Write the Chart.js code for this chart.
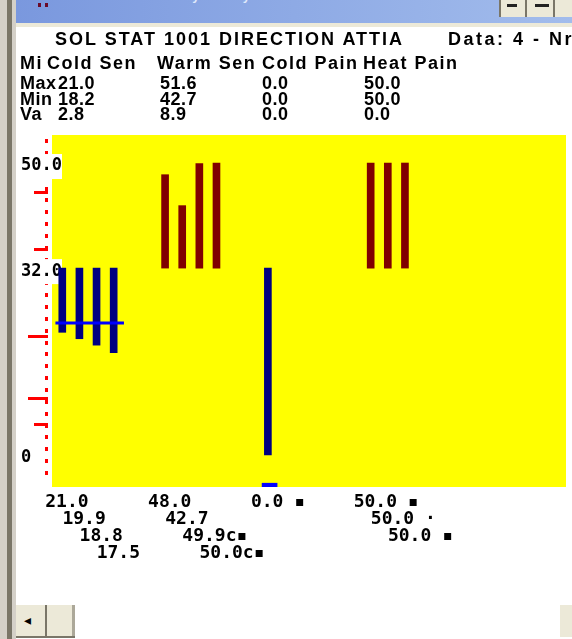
<!DOCTYPE html>
<html>
<head>
<meta charset="utf-8">
<script src="https://cdn.jsdelivr.net/npm/chart.js@4/dist/chart.umd.min.js"></script>
<style>
  body { margin: 0; width: 572px; height: 639px; overflow: hidden; background: #fff; position: relative;
         font-family: "Liberation Sans", Arial, sans-serif; }
  .abs { position: absolute; }
  #leftStrip { left: 0; top: 0; width: 16px; height: 639px;
    background: linear-gradient(to right, #d4d0c8 0 7px, #7a7668 7px 12px, #d4d0c8 12px 16px); }
  #titleBar { left: 16px; top: 0; width: 556px; height: 23px; overflow: hidden;
    background: linear-gradient(to right, #7a98de, #a2bcec); }
  #titleBar span { position: absolute; left: 50px; top: -12px; color: #dfe8fb; font: bold 13px "Liberation Sans"; letter-spacing: 2px; white-space: nowrap; }
  #beige { left: 16px; top: 23px; width: 556px; height: 4px; background: #ece9d8; }
  .ico { top: 3px; width: 3px; height: 4px; background: #6a0a2a; }
  .btn { top: 0; height: 17px; background: #ece9d8; border-left: 2px solid #7a7668; box-sizing: border-box; }
  .btn i { position: absolute; left: 6px; top: 4px; width: 10px; height: 3px; background: #222; }
  .sb { background: #ece9d8; }
  .txt { position: absolute; font: bold 18px "Liberation Sans", Arial, sans-serif; letter-spacing: 0.5px; color: #000; white-space: nowrap; line-height: 18px; z-index: 3; }
  #chart { position: absolute; left: 0; top: 0; z-index: 2; }
</style>
</head>
<body>
<div id="leftStrip" class="abs"></div>
<div id="titleBar" class="abs"><span>Thermal Sensory Analyzer - Patient Data</span></div>
<div id="beige" class="abs"></div>
<div class="abs ico" style="left:38px"></div>
<div class="abs ico" style="left:45px"></div>
<div class="abs btn" style="left:499px;width:26px"><i></i></div>
<div class="abs btn" style="left:525px;width:28px"><i style="left:8px;width:14px"></i></div>
<div class="abs btn" style="left:553px;width:19px"></div>
<div class="abs sb" style="left:16px;top:605px;width:29px;height:32px;"><span style="position:absolute;left:8px;top:7px;font:bold 14px 'DejaVu Sans'">◂</span></div>
<div class="abs" style="left:45px;top:605px;width:2px;height:32px;background:#7a7668"></div>
<div class="abs sb" style="left:47px;top:605px;width:25px;height:32px;border-right:3px solid #aca899"></div>
<div class="abs sb" style="left:560px;top:605px;width:12px;height:32px;"></div>
<div class="abs" style="left:16px;top:636px;width:59px;height:2px;background:#7a7668"></div>

<canvas id="chart" width="572" height="639"></canvas>
<div id="table"></div>

<script>
// header text
const titleText = 'SOL STAT 1001 DIRECTION ATTIA';
const dateText = 'Data: 4 - Nr';
const tableHeader = ['Mi', 'Cold Sen', 'Warm Sen', 'Cold Pain', 'Heat Pain'];
const rowMax = ['Max', '21.0', '51.6', '0.0', '50.0'];
const rowMin = ['Min', '18.2', '42.7', '0.0', '50.0'];
const rowVar = ['Va', '2.8', '8.9', '0.0', '0.0'];

// bars start at the 32.0 baseline and run to each trial value
const baseline = 32.0;
const coldPos = [0.6, 1.6, 2.6, 3.6];
const coldValues = [21.0, 19.9, 18.8, 17.5];
const coldLabels = ['21.0', '19.9', '18.8', '17.5'];
const warmPos = [6.6, 7.6, 8.6, 9.6];
const warmValues = [48.0, 42.7, 49.9, 50.0];
const warmLabels = ['48.0', '42.7', '49.9c▪', '50.0c▪'];
const coldPainPos = [12.6];
const coldPainValues = [0.0];
const coldPainLabels = ['0.0 ▪'];
const heatPos = [18.6, 19.6, 20.6];
const heatValues = [50.0, 50.0, 50.0];
const heatLabels = ['50.0 ▪', '50.0 ·', '50.0 ▪'];

// cold sensation reference line and cold pain marker
const coldRefX = [0.2, 4.2];
const coldRefValue = 22.6;
const coldPainMarkX = [12.7];
const coldPainMark = [-5.5, -4.85];

// y axis
const yTicks = [50, 32, 0];
const yTickLabels = ['50.0', '32.0', '0'];
const refMarks = [45.0, 35.3, 20.4, 9.8, 5.3];
const refMarkLong = [false, false, true, true, false];

// top table as real text
function addText(str, left, top, spacing) {
  const d = document.createElement('div');
  d.className = 'txt';
  d.style.left = left + 'px';
  d.style.top = top + 'px';
  if (spacing) d.style.letterSpacing = spacing + 'px';
  d.textContent = str;
  document.getElementById('table').appendChild(d);
}
addText(titleText, 55, 30, 2);
addText(dateText, 448, 30, 2.5);
const colX = [20, 47, 157, 262, 363];
tableHeader.forEach((t, i) => addText(t, colX[i], 54, 1.5));
const valX = [20, 58, 160, 262, 364];
[rowMax, rowMin, rowVar].forEach((row, r) => {
  row.forEach((t, i) => addText(t, valX[i], [74, 90, 105][r]));
});

const floating = (pos, vals) => pos.map((x, i) => ({ x: x, y: [baseline, vals[i]] }));

const NAVY = '#000080';
const MAROON = '#800000';

const panelPlugin = {
  id: 'panel',
  beforeDraw(chart) {
    const a = chart.chartArea;
    const ctx = chart.ctx;
    ctx.save();
    ctx.fillStyle = '#ffff00';
    ctx.fillRect(a.left, a.top, a.right - a.left, a.bottom - a.top);
    ctx.restore();
  },
  beforeDatasetsDraw(chart) {
    const ctx = chart.ctx;
    const y = chart.scales.y;
    const x = chart.scales.x;
    const a = chart.chartArea;
    ctx.save();
    // red tick dots along the left side
    ctx.fillStyle = '#ff0000';
    for (let v = -3.1; v <= 54.5; v += 2.03) {
      ctx.fillRect(45, Math.round(y.getPixelForValue(v)) - 2, 3, 4);
    }
    refMarks.forEach((v, i) => {
      const left = refMarkLong[i] ? 28 : 34;
      ctx.fillRect(left, Math.round(y.getPixelForValue(v)) - 1, 48 - left, 3);
    });
    // y labels on white boxes
    ctx.font = 'bold 17px "DejaVu Sans Mono"';
    ctx.textBaseline = 'middle';
    yTicks.forEach((v, i) => {
      const py = y.getPixelForValue(v) + 3;
      if (yTickLabels[i].length > 1) {
        ctx.fillStyle = '#ffffff';
        ctx.fillRect(20, py - 12, 42, 25);
      }
      ctx.fillStyle = '#000000';
      ctx.fillText(yTickLabels[i], 21, py);
    });
    // staggered value labels under the plot
    ctx.font = 'bold 18px "DejaVu Sans Mono"';
    ctx.textBaseline = 'alphabetic';
    const groups = [[coldPos, coldLabels], [warmPos, warmLabels], [coldPainPos, coldPainLabels], [heatPos, heatLabels]];
    groups.forEach(([pos, labels]) => {
      labels.forEach((t, i) => {
        const px = x.getPixelForValue(pos[i]) - 17;
        ctx.fillText(t, px, a.bottom + 20 + i * 17);
      });
    });
    ctx.restore();
  }
};

new Chart(document.getElementById('chart').getContext('2d'), {
  type: 'bar',
  data: {
    datasets: [
      { label: 'Cold Sen', data: floating(coldPos, coldValues), backgroundColor: NAVY, order: 1 },
      { label: 'Warm Sen', data: floating(warmPos, warmValues), backgroundColor: MAROON, order: 1 },
      { label: 'Cold Pain', data: floating(coldPainPos, coldPainValues), backgroundColor: NAVY, order: 1 },
      { label: 'Heat Pain', data: floating(heatPos, heatValues), backgroundColor: MAROON, order: 1 },
      { label: 'Cold Pain mark', data: coldPainMarkX.map(x => ({ x: x, y: coldPainMark })), backgroundColor: '#0000ff', barThickness: 15, order: 1 },
      { type: 'line', label: 'Cold ref', data: coldRefX.map(x => ({ x: x, y: coldRefValue })),
        borderColor: '#0000ff', borderWidth: 3, pointRadius: 0, order: 0 }
    ]
  },
  options: {
    responsive: false,
    animation: false,
    devicePixelRatio: 1,
    layout: { padding: { left: 52, right: 6, top: 135, bottom: 152 } },
    datasets: { bar: { grouped: false, barThickness: 7, borderWidth: 0 } },
    plugins: { legend: { display: false }, tooltip: { enabled: false } },
    scales: {
      x: { type: 'linear', min: 0, max: 30, offset: false, display: false },
      y: { min: -5.5, max: 54.8, display: false }
    }
  },
  plugins: [panelPlugin]
});
</script>
</body>
</html>
